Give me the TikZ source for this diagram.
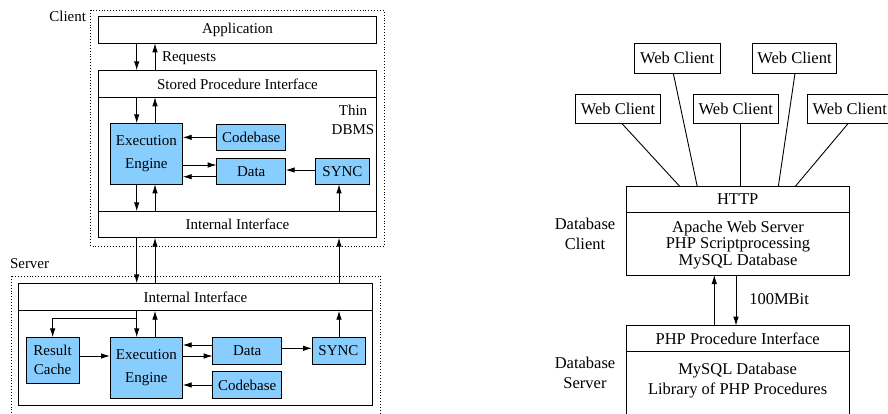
\documentclass[tikz,border=0pt]{standalone}
\usepackage{fontspec}
\setmainfont{Liberation Serif}
\usetikzlibrary{arrows.meta,calc}
\definecolor{boxblue}{RGB}{135,206,255}

\begin{document}
\begin{tikzpicture}[x=1pt,y=-1pt,
  every node/.style={inner sep=0pt,outer sep=0pt},
  lf/.style={font=\fontsize{15}{19}\selectfont},
  eef/.style={font=\fontsize{15}{23}\selectfont},
  rf/.style={font=\fontsize{16.5}{20}\selectfont},
  wbox/.style={draw,line width=0.9pt,fill=white},
  bbox/.style={draw,line width=0.9pt,fill=boxblue,align=center},
  zone/.style={draw,dotted,line width=0.9pt},
  wire/.style={line width=0.9pt},
  arr/.style={wire,-{Latex[length=9pt,width=5.5pt]}}]
\useasboundingbox (0,0) rectangle (888,413);
\clip (0,0) rectangle (888,413);

% columns of the vertical connectors
\coordinate (cd) at (136.7,0);
\coordinate (cu) at (155,0);
\coordinate (cs) at (339,0);

% ---------------- client ----------------
\draw[zone] (90.7,10) rectangle (384,246);
\node[lf,anchor=east] (clientlbl) at (86,16) {Client};
\node[wbox,lf,minimum width=278.4,minimum height=26.6] (app) at (237.5,30) {Application};
\node[wbox,minimum width=278.4,minimum height=167.4] (dbms) at (237.5,154) {};
\node[wbox,lf,minimum width=278.4,minimum height=27] (spi) at (237.5,83.8) {Stored Procedure Interface};
\node[wbox,lf,minimum width=278.4,minimum height=26.4] (cii) at (237.5,224.5) {Internal Interface};
\node[lf,align=center] (thin) at (353,120) {Thin\\DBMS};
\node[lf,anchor=west] (req) at (162,58) {Requests};

\node[bbox,eef,minimum width=72.7,minimum height=61] (ee1) at (146.35,153.8) {Execution\\Engine};
\node[bbox,lf,minimum width=69,minimum height=26.7] (cb1) at (251.2,137.35) {Codebase};
\node[bbox,lf,minimum width=69,minimum height=26] (data1) at (251.2,171.3) {Data};
\node[bbox,lf,minimum width=53.6,minimum height=26] (sync1) at (342.5,171.3) {SYNC};

\draw[arr] (app.south -| cd) -- (spi.north -| cd);
\draw[arr] (spi.north -| cu) -- (app.south -| cu);
\draw[arr] (spi.south -| cd) -- (ee1.north -| cd);
\draw[arr] (ee1.north -| cu) -- (spi.south -| cu);
\draw[arr] (cb1.west) -- (cb1.west -| ee1.east);
\draw[arr] ($(data1.west -| ee1.east)+(0,-6.3)$) -- ($(data1.west)+(0,-6.3)$);
\draw[arr] ($(data1.west)+(0,5.4)$) -- ($(data1.west -| ee1.east)+(0,5.4)$);
\draw[arr] ($(sync1.west)+(0,-1.3)$) -- ($(data1.east)+(0,-1.3)$);
\draw[arr] (ee1.south -| cd) -- (cii.north -| cd);
\draw[arr] (cii.north -| cu) -- (ee1.south -| cu);
\draw[arr] (cii.north -| cs) -- (sync1.south -| cs);

% ---------------- server ----------------
\draw[zone] (11,276) rectangle (380,430);
\node[lf,anchor=west] (serverlbl) at (10,264) {Server};
\node[wbox,minimum width=354.4,minimum height=122.4] (srv) at (195.5,344.5) {};
\node[wbox,lf,minimum width=354.4,minimum height=27.4] (sii) at (195.5,297) {Internal Interface};

\node[bbox,lf,minimum width=53.3,minimum height=46] (rc) at (52.65,360.3) {Result\\Cache};
\node[bbox,eef,minimum width=72.7,minimum height=61] (ee2) at (146.35,367.8) {Execution\\Engine};
\node[bbox,lf,minimum width=69,minimum height=26.7] (data2) at (247.2,350.65) {Data};
\node[bbox,lf,minimum width=69,minimum height=26.6] (cb2) at (247.2,385) {Codebase};
\node[bbox,lf,minimum width=53,minimum height=26.7] (sync2) at (338.5,350.65) {SYNC};

% links between client and server
\draw[arr] (cii.south -| cd) -- (sii.north -| cd);
\draw[arr] (sii.north -| cu) -- (cii.south -| cu);
\draw[arr] (sii.north -| cs) -- (cii.south -| cs);

\coordinate (split) at (136.7,318.3);
\draw[arr] (sii.south -| cd) -- (ee2.north -| cd);
\draw[arr] (split) -| (rc.north);
\draw[arr] (ee2.north -| cu) -- (sii.south -| cu);
\draw[arr] ($(rc.east)+(0,-4.3)$) -- ($(rc.east -| ee2.west)+(0,-4.3)$);
\draw[arr] ($(data2.west)+(0,-5.65)$) -- ($(data2.west -| ee2.east)+(0,-5.65)$);
\draw[arr] ($(data2.west -| ee2.east)+(0,5.35)$) -- ($(data2.west)+(0,5.35)$);
\draw[arr] (cb2.west) -- (cb2.west -| ee2.east);
\draw[arr] ($(data2.east)+(0,-2.35)$) -- ($(data2.east -| sync2.west)+(0,-2.35)$);
\draw[arr] (sync2.north -| cs) -- (sii.south -| cs);

% ---------------- web architecture ----------------
\node[wbox,rf,minimum width=85.7,minimum height=30] (wcA) at (677.15,58.3) {Web Client};
\node[wbox,rf,minimum width=84.4,minimum height=30] (wcB) at (794.5,58.3) {Web Client};
\node[wbox,rf,minimum width=85.4,minimum height=29] (wcC) at (618,108.8) {Web Client};
\node[wbox,rf,minimum width=85,minimum height=29] (wcD) at (735.8,108.8) {Web Client};
\node[wbox,rf,minimum width=85,minimum height=29] (wcE) at (849.8,108.8) {Web Client};

\node[wbox,minimum width=223.3,minimum height=88.3] (http) at (737.65,230.85) {};
\node[wbox,rf,minimum width=223.3,minimum height=25.6] (httpbar) at (737.65,199.5) {HTTP};
\node[font=\fontsize{16.5}{16.7}\selectfont,align=center] (apache) at (738,245)
  {Apache Web Server\\PHP Scriptprocessing\\MySQL Database};
\node[rf,align=center] (dbclient) at (585,234) {Database\\Client};

\node[wbox,minimum width=223.3,minimum height=114.3] (php) at (737.65,382.85) {};
\node[wbox,rf,minimum width=223.3,minimum height=25.3] (phpbar) at (737.65,338.35) {PHP Procedure Interface};
\node[rf,align=center] (phplib) at (737.6,380.7) {MySQL Database\\Library of PHP Procedures};
\node[rf,align=center] (dbserver) at (585,373.3) {Database\\Server};

\draw[wire] ($(wcC.south)+(3.7,0)$) -- ($(http.north)+(-57.65,0)$);
\draw[wire] ($(wcA.south)+(-3.85,0)$) -- ($(http.north)+(-40.35,0)$);
\draw[wire] ($(wcD.south)+(4.2,0)$) -- ($(http.north)+(2.35,0)$);
\draw[wire] ($(wcB.south)+(0.5,0)$) -- ($(http.north)+(40.65,0)$);
\draw[wire] ($(wcE.south)+(-1.5,0)$) -- ($(http.north)+(57.35,0)$);

\coordinate (pu) at (714.3,0);
\coordinate (pd) at (736,0);
\draw[arr] (phpbar.north -| pu) -- (http.south -| pu);
\draw[arr] (http.south -| pd) -- (phpbar.north -| pd);
\node[rf,anchor=west] (speed) at (749.3,299.3) {100MBit};
\end{tikzpicture}
\end{document}
